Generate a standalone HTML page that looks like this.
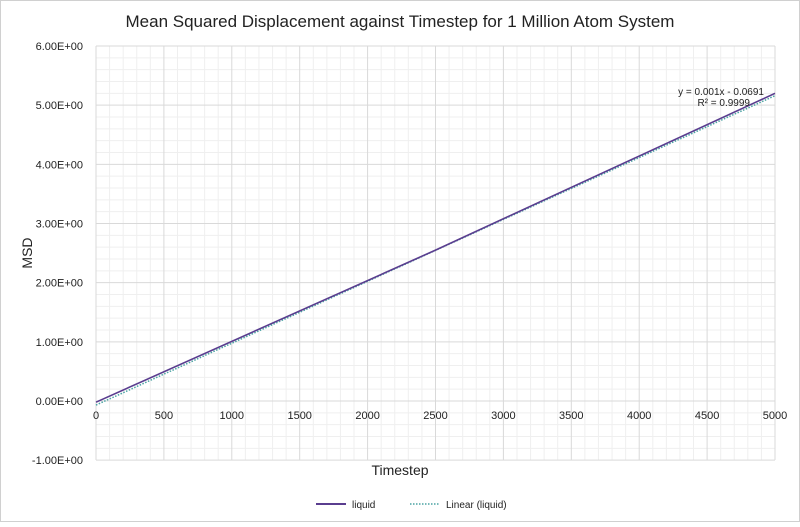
<!DOCTYPE html>
<html><head><meta charset="utf-8"><style>
body{margin:0;background:#fff}
svg text{font-family:"Liberation Sans",sans-serif;fill:#222}
</style></head><body>
<svg width="800" height="522" xmlns="http://www.w3.org/2000/svg">
<rect x="0.5" y="0.5" width="799" height="521" fill="#fff" stroke="#d0d0d0"/>
<text x="400" y="27" font-size="17" text-anchor="middle">Mean Squared Displacement against Timestep for 1 Million Atom System</text>
<g id="g"></g>
<text x="400" y="475" font-size="14" text-anchor="middle">Timestep</text>
<text x="32" y="253" font-size="14" text-anchor="middle" transform="rotate(-90 32 253)">MSD</text>
<line x1="316" y1="504" x2="346" y2="504" stroke="#5a3d8f" stroke-width="2"/>
<text x="352" y="508" font-size="10">liquid</text>
<line x1="410" y1="504" x2="440" y2="504" stroke="#4aa3a3" stroke-width="1.5" stroke-dasharray="1.5,1.5"/>
<text x="446" y="508" font-size="10">Linear (liquid)</text>
<text x="764" y="95" font-size="10" text-anchor="end">y = 0.001x - 0.0691</text>
<text x="750" y="106" font-size="10" text-anchor="end">R² = 0.9999</text>
</svg>
<script>
const g=document.getElementById('g');let s='';
const X=v=>96+v*679/5000, Y=v=>401-v*59.17;
for(let i=0;i<=50;i++){if(i%5)s+=`<line x1="${X(i*100)}" y1="46" x2="${X(i*100)}" y2="460" stroke="#efefef"/>`;}
for(let i=-5;i<=30;i++){if(i%5)s+=`<line x1="96" y1="${Y(i*0.2)}" x2="775" y2="${Y(i*0.2)}" stroke="#efefef"/>`;}
for(let i=0;i<=10;i++)s+=`<line x1="${X(i*500)}" y1="46" x2="${X(i*500)}" y2="460" stroke="#d9d9d9"/>`;
for(let i=-1;i<=6;i++){s+=`<line x1="96" y1="${Y(i)}" x2="775" y2="${Y(i)}" stroke="#d9d9d9"/>`;
s+=`<text x="83" y="${Y(i)+4}" font-size="11" text-anchor="end">${i<0?'-':''}${Math.abs(i)}.00E+00</text>`;}
for(let i=0;i<=10;i++)s+=`<text x="${X(i*500)}" y="${Y(0)+18}" font-size="11" text-anchor="middle">${i*500}</text>`;
s+=`<polyline fill="none" stroke="#4aa3a3" stroke-width="1.5" stroke-dasharray="1.5,1.5" points="${X(0)},${Y(-0.0691)} ${X(5000)},${Y(5.16)}"/>`;
s+=`<polyline fill="none" stroke="#5a3d8f" stroke-width="1.6" points="${X(0)},${Y(-0.02)} ${X(2500)},${Y(2.55)} ${X(5000)},${Y(5.2)}"/>`;
g.innerHTML=s;
</script>
</body></html>
